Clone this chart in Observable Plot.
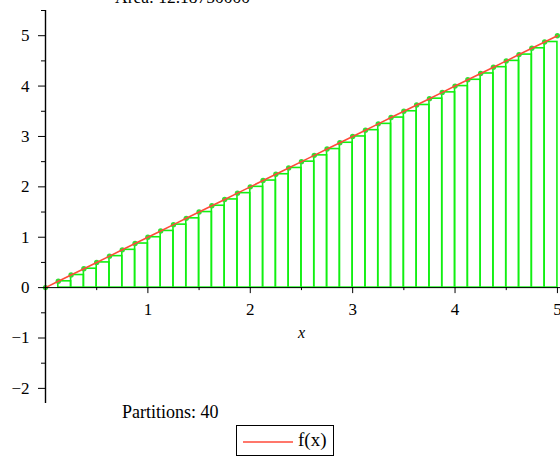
<!DOCTYPE html>
<html>
<head>
<meta charset="utf-8">
<script src="https://cdn.jsdelivr.net/npm/d3@7"></script>
<script src="https://cdn.jsdelivr.net/npm/@observablehq/plot@0.6"></script>
<style>
  html, body { margin: 0; padding: 0; background: #fff; }
  #wrap { position: relative; width: 560px; height: 458px; overflow: hidden; font-family: "Liberation Serif", "DejaVu Serif", serif; color: #000; }
  #wrap svg { position: absolute; left: 0; top: 0; }
  .lbl { position: absolute; white-space: nowrap; }
  #legend { position: absolute; left: 236px; top: 425px; width: 98px; height: 31px; border: 1px solid #000; box-sizing: border-box; background: #fff; }
</style>
</head>
<body>
<div id="wrap"></div>
<script>
// Partition points of [0, 5] split into 40 equal pieces
const partitionPoints = [
  0, 0.125, 0.25, 0.375, 0.5, 0.625, 0.75, 0.875,
  1, 1.125, 1.25, 1.375, 1.5, 1.625, 1.75, 1.875,
  2, 2.125, 2.25, 2.375, 2.5, 2.625, 2.75, 2.875,
  3, 3.125, 3.25, 3.375, 3.5, 3.625, 3.75, 3.875,
  4, 4.125, 4.25, 4.375, 4.5, 4.625, 4.75, 4.875, 5
];
// f(x) = x evaluated at each partition point
const fValues = [
  0, 0.125, 0.25, 0.375, 0.5, 0.625, 0.75, 0.875,
  1, 1.125, 1.25, 1.375, 1.5, 1.625, 1.75, 1.875,
  2, 2.125, 2.25, 2.375, 2.5, 2.625, 2.75, 2.875,
  3, 3.125, 3.25, 3.375, 3.5, 3.625, 3.75, 3.875,
  4, 4.125, 4.25, 4.375, 4.5, 4.625, 4.75, 4.875, 5
];
const xTicks = [1, 2, 3, 4, 5];
const xMinorTicks = [0.5, 1.5, 2.5, 3.5, 4.5];
const yTicks = [-2, -1, 0, 1, 2, 3, 4, 5];
const yMinorTicks = [-1.5, -0.5, 0.5, 1.5, 2.5, 3.5, 4.5, 5.5];

// Left-endpoint rectangles
const rects = partitionPoints.slice(0, -1).map((x, i) => ({
  x1: x, x2: partitionPoints[i + 1], h: fValues[i]
}));
const curve = partitionPoints.map((x, i) => ({x, y: fValues[i]}));
const area = d3.sum(rects, r => (r.x2 - r.x1) * r.h);

const green = "#11f011";
const dotGreen = "#33dd33";
const red = "#ff4a3a";
const minus = s => String(s).replace("-", "\u2212");

const chart = Plot.plot({
  width: 560,
  height: 458,
  marginLeft: 45,
  marginRight: 0,
  marginTop: 10,
  marginBottom: 55,
  x: {domain: [0, 5.03], axis: null},
  y: {domain: [-2.3, 5.5], axis: null},
  style: {fontFamily: "Liberation Serif, serif", fontSize: "17px", background: "transparent", overflow: "visible"},
  marks: [
    Plot.rect(rects, {x1: "x1", x2: "x2", y1: 0, y2: "h", fill: "none", stroke: green, strokeWidth: 1.6}),
    Plot.dot(curve, {x: "x", y: "y", r: 2.7, fill: dotGreen, stroke: "none"}),
    Plot.line(curve, {x: "x", y: "y", stroke: red, strokeWidth: 1.6}),
    // axes crossing at the origin
    Plot.ruleY([0], {stroke: "#000", strokeWidth: 1}),
    Plot.ruleX([0], {stroke: "#000", strokeWidth: 1.4}),
    // major and minor ticks (short rules measured in pixels from the axes)
    Plot.ruleX(xTicks, {x: d => d, y1: 0, y2: 0, insetBottom: -6, stroke: "#000"}),
    Plot.ruleX(xMinorTicks, {x: d => d, y1: 0, y2: 0, insetBottom: -3, stroke: "#000"}),
    Plot.ruleY(yTicks, {y: d => d, x1: 0, x2: 0, insetLeft: -7, stroke: "#000"}),
    Plot.ruleY(yMinorTicks, {y: d => d, x1: 0, x2: 0, insetLeft: -4, stroke: "#000"}),
    Plot.text(xTicks, {x: d => d, y: 0, dy: 22, text: d => String(d), fontSize: 17}),
    Plot.text(yTicks, {x: 0, y: d => d, dx: -16, textAnchor: "end", text: d => minus(d), fontSize: 17}),
    Plot.text(["x"], {x: 2.5, y: 0, dy: 45, text: d => d, fontStyle: "italic", fontSize: 16})
  ]
});

const wrap = document.getElementById("wrap");
wrap.appendChild(chart);

const title = document.createElement("div");
title.className = "lbl";
title.style.cssText = "left:115px; top:-13px; font-size:17.5px;";
title.textContent = "Area: " + area.toFixed(8);
wrap.appendChild(title);

const caption = document.createElement("div");
caption.className = "lbl";
caption.style.cssText = "left:122px; top:402px; font-size:18px;";
caption.textContent = "Partitions: " + (partitionPoints.length - 1);
wrap.appendChild(caption);

const legend = document.createElement("div");
legend.id = "legend";
legend.innerHTML =
  '<svg width="62" height="29" style="position:absolute;left:0;top:0"><line x1="6" x2="56" y1="16" y2="16" stroke="' + red + '" stroke-width="1.6"/></svg>' +
  '<span class="lbl" style="left:61px; top:3px; font-size:19px;">f(x)</span>';
wrap.appendChild(legend);
</script>
</body>
</html>
